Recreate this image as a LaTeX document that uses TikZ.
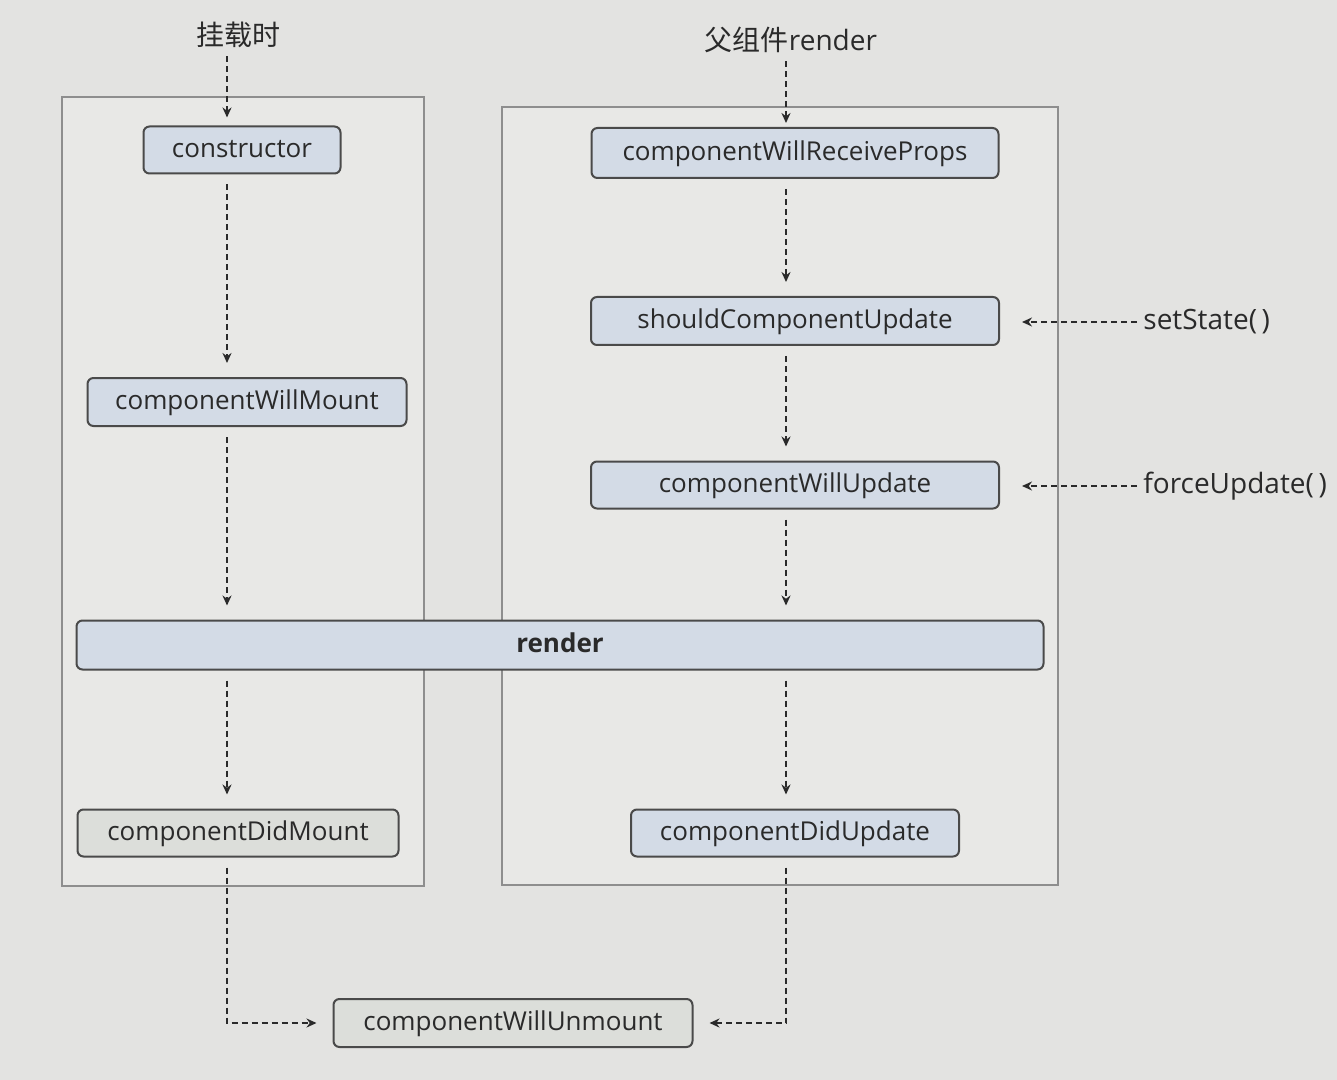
\documentclass[tikz,border=0pt]{standalone}
\usepackage{fontspec}
\setmainfont{Open Sans}
\newfontfamily\cjk{Noto Sans CJK SC}
\usetikzlibrary{arrows.meta}
\definecolor{bgcol}{HTML}{E3E3E1}
\definecolor{panelfill}{HTML}{E8E8E6}
\definecolor{paneldraw}{HTML}{8E8E8E}
\definecolor{boxblue}{HTML}{D3DBE6}
\definecolor{boxgray}{HTML}{DCDEDA}
\definecolor{boxdraw}{HTML}{4A4A4A}
\definecolor{txt}{HTML}{2A2A2A}
\tikzset{
  panel/.style={draw=paneldraw, fill=panelfill, line width=0.6pt},
  lcbox/.style={draw=boxdraw, fill=boxblue, line width=1pt, rounded corners=3pt,
    inner sep=0pt, font=\fontsize{13}{15}\selectfont, text=txt,
    text height=0.78em, text depth=0.04em},
  graybox/.style={lcbox, fill=boxgray},
  flow/.style={draw=txt, line width=1.1pt, dash pattern=on 3pt off 2pt,
    -{Stealth[length=5pt,width=4.5pt]}, shorten <=5pt, shorten >=7pt},
  lbl/.style={font=\fontsize{14}{16}\selectfont, text=txt, inner sep=1pt},
}
\begin{document}
\begin{tikzpicture}[x=0.5pt,y=-0.5pt]
\useasboundingbox (0,0) rectangle (1337,1080);
\fill[bgcol] (0,0) rectangle (1337,1080);
% panels
\draw[panel] (62,97) rectangle (424,886);
\draw[panel] (502,107) rectangle (1058,885);
% guide coordinates
\coordinate (lx) at (227,0);
\coordinate (rx) at (786,0);
% labels
\node[lbl] (mount) at (238,35) {\cjk 挂载时};
\node[lbl] (parent) at (791,40) {{\cjk 父组件}render};
% left column
\node[lcbox, minimum width=98.5pt, minimum height=23.5pt] (ctor) at (242,150) {constructor};
\node[lcbox, minimum width=159.5pt, minimum height=24pt] (cwm) at (247,402) {componentWillMount};
\node[graybox, minimum width=160.5pt, minimum height=23.5pt] (cdm) at (238,833) {componentDidMount};
% right column
\node[lcbox, minimum width=203.5pt, minimum height=25pt] (cwrp) at (795,153) {componentWillReceiveProps};
\node[lcbox, minimum width=204pt, minimum height=24pt] (scu) at (795,321) {shouldComponentUpdate};
\node[lcbox, minimum width=204pt, minimum height=23.5pt] (cwu) at (795,485) {componentWillUpdate};
\node[lcbox, minimum width=164pt, minimum height=23.5pt] (cdu) at (795,833) {componentDidUpdate};
% render
\node[lcbox, minimum width=483.5pt, minimum height=24.5pt, font=\fontsize{13}{15}\selectfont\bfseries] (render) at (560,645) {render};
% unmount
\node[graybox, minimum width=179.5pt, minimum height=24pt] (cwun) at (513,1023) {componentWillUnmount};
% side triggers
\node[lbl, anchor=west] (ss) at (1141,322) {setState(\,)};
\node[lbl, anchor=west] (fu) at (1141,486) {forceUpdate(\,)};
% left flow
\draw[flow, shorten <=3pt, shorten >=4pt] (mount.south -| lx) -- (ctor.north -| lx);
\draw[flow] (ctor.south -| lx) -- (cwm.north -| lx);
\draw[flow] (cwm.south -| lx) -- (render.north -| lx);
\draw[flow] (render.south -| lx) -- (cdm.north -| lx);
% right flow
\draw[flow, shorten <=3pt, shorten >=2pt] (parent.south -| rx) -- (cwrp.north -| rx);
\draw[flow] (cwrp.south -| rx) -- (scu.north -| rx);
\draw[flow] (scu.south -| rx) -- (cwu.north -| rx);
\draw[flow] (cwu.south -| rx) -- (render.north -| rx);
\draw[flow] (render.south -| rx) -- (cdu.north -| rx);
% triggers
\draw[flow, shorten <=2pt, shorten >=11pt] (ss.west) -- (scu.east |- ss.west);
\draw[flow, shorten <=2pt, shorten >=11pt] (fu.west) -- (cwu.east |- fu.west);
% unmount
\draw[flow, shorten >=8pt] (cdm.south -| lx) |- (cwun.west);
\draw[flow, shorten >=8pt] (cdu.south -| rx) |- (cwun.east);
\end{tikzpicture}
\end{document}
